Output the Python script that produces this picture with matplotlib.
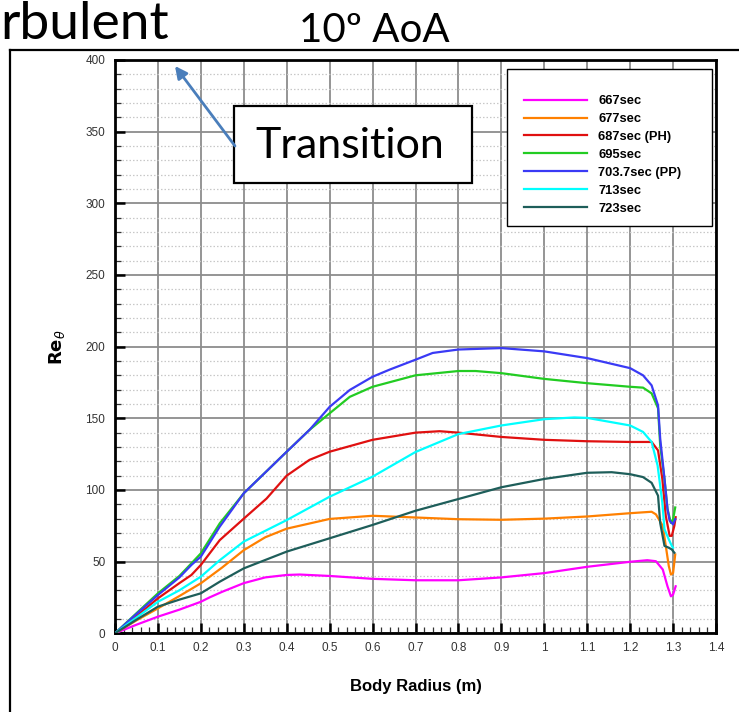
import matplotlib
matplotlib.use('Agg')
import matplotlib.pyplot as plt
from matplotlib.patches import Rectangle, FancyArrowPatch
from matplotlib.lines import Line2D
from matplotlib.ticker import MultipleLocator, FuncFormatter

# ---------------- data ----------------
labels = ['667sec', '677sec', '687sec (PH)', '695sec', '703.7sec (PP)', '713sec', '723sec']
colors = ['#FF00FF', '#FF8000', '#E01010', '#22CC22', '#3A3AF5', '#00FFFF', '#1E5E5A']

x_667 = [0, 0.05, 0.1, 0.15, 0.2, 0.22, 0.25, 0.3, 0.35, 0.4, 0.43, 0.5, 0.6, 0.7, 0.8, 0.9, 1.0,
         1.1, 1.2, 1.24, 1.26, 1.276, 1.287, 1.295, 1.30, 1.306]
y_667 = [0, 6, 11.6, 16.5, 22, 25, 29, 35, 39, 40.7, 41, 40, 38, 37, 37, 39, 42,
         46.4, 49.9, 51, 50.3, 44.5, 32.8, 25.8, 27, 32.8]

x_677 = [0, 0.05, 0.1, 0.15, 0.2, 0.25, 0.3, 0.35, 0.4, 0.5, 0.6, 0.7, 0.8, 0.9, 1.0, 1.1, 1.2,
         1.25, 1.26, 1.276, 1.283, 1.29, 1.295, 1.30, 1.305]
y_677 = [0, 9, 17.4, 26, 34.9, 46, 58, 67, 73, 79.8, 82, 80.8, 79.6, 79.2, 80, 81.5, 83.8,
         84.8, 83, 75, 61, 47, 41, 42, 55]

x_687 = [0, 0.05, 0.1, 0.15, 0.178, 0.2, 0.244, 0.3, 0.353, 0.4, 0.453, 0.5, 0.6, 0.7, 0.756, 0.8,
         0.9, 1.0, 1.1, 1.2, 1.25, 1.265, 1.275, 1.283, 1.292, 1.297, 1.303, 1.306]
y_687 = [0, 12, 24.4, 35, 40.7, 47.7, 65, 80, 94, 110, 121, 126.7, 135, 140, 141, 140,
         137, 135, 134, 133.5, 133.5, 127.6, 107.7, 82, 68, 68, 75, 81]

x_695 = [0, 0.05, 0.1, 0.15, 0.178, 0.2, 0.244, 0.3, 0.4, 0.453, 0.5, 0.547, 0.6, 0.7, 0.8, 0.84,
         0.9, 1.0, 1.1, 1.2, 1.23, 1.25, 1.265, 1.27, 1.28, 1.287, 1.295, 1.30, 1.305]
y_695 = [0, 14, 27.9, 40, 48.8, 55.8, 76.7, 97.7, 126.7, 141.9, 153.5, 165, 172, 180, 183, 183,
         181.5, 177.5, 174.5, 172, 171.4, 167.4, 157, 131, 107.7, 86.7, 77, 79.6, 87.8]

x_7037 = [0, 0.05, 0.1, 0.15, 0.178, 0.2, 0.244, 0.3, 0.4, 0.453, 0.5, 0.547, 0.6, 0.64, 0.7, 0.74,
          0.8, 0.9, 1.0, 1.1, 1.2, 1.23, 1.25, 1.265, 1.27, 1.28, 1.287, 1.292, 1.30, 1.305]
y_7037 = [0, 13.5, 26.7, 39, 47.7, 53.5, 74.4, 97.7, 126.7, 141.9, 158, 169.8, 179, 184, 190.9, 195.6,
          198, 199, 196.7, 192, 185, 180, 173, 159, 136, 107.7, 86.7, 78.5, 76, 79.6]

x_713 = [0, 0.05, 0.1, 0.15, 0.2, 0.244, 0.3, 0.4, 0.5, 0.6, 0.7, 0.8, 0.9, 1.0, 1.07, 1.1, 1.2,
         1.23, 1.25, 1.264, 1.275, 1.28, 1.29, 1.297, 1.30]
y_713 = [0, 11, 22, 30, 39.5, 51, 64, 79, 95.3, 109.3, 126.5, 139, 145, 149.4, 150.6, 150.3, 145,
         140.5, 133.5, 117, 91, 72.6, 65.6, 61, 59.7]

x_723 = [0, 0.05, 0.1, 0.15, 0.2, 0.244, 0.3, 0.4, 0.5, 0.6, 0.7, 0.8, 0.9, 1.0, 1.1, 1.157, 1.2,
         1.23, 1.25, 1.265, 1.27, 1.28, 1.29, 1.297, 1.303]
y_723 = [0, 9.5, 18.6, 23.5, 27.9, 36, 45.3, 57, 66.3, 75.6, 85.5, 93.7, 101.9, 107.7, 112, 112.4, 111,
         109, 105, 96, 77, 61, 59.7, 58.5, 56.2]

series_x = [x_667, x_677, x_687, x_695, x_7037, x_713, x_723]
series_y = [y_667, y_677, y_687, y_695, y_7037, y_713, y_723]

xticks = [round(0.1 * i, 1) for i in range(15)]
yticks = list(range(0, 401, 50))

header_left = 'rbulent'
header_title = '10º AoA'
note_text = 'Transition'
xlabel = 'Body Radius (m)'
ylabel = r'$\mathbf{Re}_{\theta}$'

# ---------------- figure ----------------
W, H = 739, 712
fig = plt.figure(figsize=(W / 100, H / 100), dpi=100)
fig.patch.set_facecolor('white')


def fx(px):
    return px / W


def fy(py):
    return 1 - py / H


ax_l, ax_r, ax_t, ax_b = 115, 716, 60, 633.3
ax = fig.add_axes([fx(ax_l), fy(ax_b), (ax_r - ax_l) / W, (ax_b - ax_t) / H])

for xs, ys, c, lab in zip(series_x, series_y, colors, labels):
    ax.plot(xs, ys, color=c, lw=1.6, label=lab, zorder=3, solid_joinstyle='round')

ax.set_xlim(0, 1.4)
ax.set_ylim(0, 400)
ax.set_xticks(xticks)
ax.set_yticks(yticks)
ax.xaxis.set_minor_locator(MultipleLocator(0.02))
ax.yaxis.set_minor_locator(MultipleLocator(10))
ax.xaxis.set_major_formatter(FuncFormatter(lambda v, p: '%g' % round(v, 1)))

ax.grid(which='major', color='#8C8C8C', lw=1.3, zorder=1)
ax.grid(which='minor', axis='y', color='#C8C8C8', lw=0.9, ls=(0, (1.2, 1.6)), zorder=1)
ax.set_axisbelow(True)

ax.tick_params(which='major', direction='in', length=7, width=1.8, colors='black',
               labelcolor='#333333', labelsize=8.5, top=False, right=False)
ax.tick_params(which='minor', direction='in', length=4, width=0.9, colors='#333333',
               top=False, right=False)
ax.tick_params(axis='x', which='major', pad=6)
ax.tick_params(axis='y', which='major', pad=7)
for lab in ax.get_xticklabels() + ax.get_yticklabels():
    lab.set_fontfamily('Liberation Sans')

for s in ax.spines.values():
    s.set_linewidth(2.0)
    s.set_color('black')

ax.set_xlabel(xlabel, fontsize=12, fontweight='bold', family='Liberation Sans', labelpad=18)
ax.set_ylabel(ylabel, fontsize=13, family='Liberation Sans', labelpad=13)

# legend frame + legend
ax.add_patch(Rectangle((fx(507), fy(226)), (712 - 507) / W, (226 - 69) / H,
                       transform=fig.transFigure, facecolor='white', edgecolor='black',
                       lw=1.0, zorder=4))
leg = ax.legend(loc='upper left', bbox_to_anchor=(fx(524), fy(95)), bbox_transform=fig.transFigure,
                frameon=False, borderpad=0, borderaxespad=0, handlelength=4.9,
                handletextpad=0.85, labelspacing=0.46,
                prop={'family': 'Liberation Sans', 'weight': 'bold', 'size': 9.3})
leg.set_zorder(5)

# header
fig.text(fx(0), fy(39), header_left, fontsize=38.5, family='Lato', ha='left', va='baseline')
fig.text(fx(374), fy(42), header_title, fontsize=29, family='Lato', ha='center', va='baseline')
fig.add_artist(Line2D([fx(10), 1.0], [fy(50), fy(50)], color='black', lw=1.6,
                      transform=fig.transFigure))
fig.add_artist(Line2D([fx(10), fx(10)], [fy(50), 0.0], color='black', lw=1.6,
                      transform=fig.transFigure))

# Transition callout
fig.add_artist(Rectangle((fx(234), fy(183)), (472 - 234) / W, (183 - 106) / H,
                         transform=fig.transFigure, facecolor='white', edgecolor='black', lw=1.6,
                         zorder=6))
fig.text(fx(350), fy(146), note_text, fontsize=31, family='Lato', ha='center', va='center',
         zorder=7)
fig.add_artist(FancyArrowPatch((fx(235), fy(146)), (fx(175), fy(66)), transform=fig.transFigure,
                               arrowstyle='-|>', mutation_scale=18, color='#4A7EBB', lw=2,
                               zorder=6, shrinkA=0, shrinkB=0))

fig.savefig('out.png', dpi=100)
